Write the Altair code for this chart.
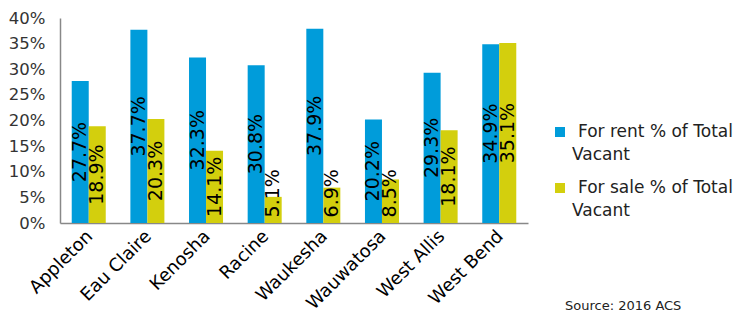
import altair as alt
import pandas as pd

cities = ["Appleton", "Eau Claire", "Kenosha", "Racine", "Waukesha", "Wauwatosa", "West Allis", "West Bend"]
rent = [27.7, 37.7, 32.3, 30.8, 37.9, 20.2, 29.3, 34.9]
sale = [18.9, 20.3, 14.1, 5.1, 6.9, 8.5, 18.1, 35.1]
series = ["For rent % of Total Vacant", "For sale % of Total Vacant"]
legend_line1 = ["For rent % of Total", "For sale % of Total"]
legend_line2 = ["Vacant", "Vacant"]
colors = ["#009CDA", "#D3CF0D"]
y_ticks = [0, 5, 10, 15, 20, 25, 30, 35, 40]
source_text = "Source: 2016 ACS"

rows = []
for i, c in enumerate(cities):
    rows.append({"city": c, "series": series[0], "value": rent[i]})
    rows.append({"city": c, "series": series[1], "value": sale[i]})
df = pd.DataFrame(rows)

FONT = "DejaVu Sans"

x = alt.X("city:N", sort=cities,
          scale=alt.Scale(paddingInner=0.42, paddingOuter=0.2),
          axis=alt.Axis(title=None, labelAngle=-45, labelAlign="right", labelBaseline="top",
                        labelFont=FONT, labelFontSize=18, labelColor="#000000", labelOffset=-5,
                        ticks=False, domainColor="#888888", domainWidth=1.5, labelPadding=4))
yscale = alt.Scale(domain=[0, 40], nice=False)
yaxis = alt.Axis(title=None, values=y_ticks, labelExpr="datum.value + '%'",
                 grid=False, ticks=False, domainColor="#888888", domainWidth=1.5,
                 labelFont=FONT, labelFontSize=16.5, labelColor="#333333", labelPadding=15)
y = alt.Y("value:Q", scale=yscale, axis=yaxis)
xo = alt.XOffset("series:N", sort=series)
color = alt.Color("series:N", scale=alt.Scale(domain=series, range=colors), legend=None)

base = alt.Chart(df)
bars = base.mark_bar().encode(x=x, y=y, xOffset=xo, color=color)
labels = base.transform_calculate(
    mid="max(datum.value / 2, 5.8)", lab="format(datum.value, '.1f') + '%'"
).mark_text(
    angle=270, align="center", baseline="middle", font=FONT, fontSize=19, color="#000000"
).encode(x=x, xOffset=xo, y=alt.Y("mid:Q", scale=yscale, axis=yaxis), text="lab:N")

leg_df = pd.DataFrame({"series": series, "line1": legend_line1, "line2": legend_line2})
leg_layers = []
for i, s in enumerate(series):
    d = leg_df[leg_df["series"] == s]
    y0 = 114 + 56 * i
    leg_layers.append(alt.Chart(d).mark_square(size=100, opacity=1, color=colors[i]).encode(
        x=alt.value(500), y=alt.value(y0)))
    leg_layers.append(alt.Chart(d).mark_text(align="left", baseline="middle", font=FONT, fontSize=17,
                                             color="#222222").encode(
        x=alt.value(518), y=alt.value(y0), text="line1:N"))
    leg_layers.append(alt.Chart(d).mark_text(align="left", baseline="middle", font=FONT, fontSize=17,
                                             color="#222222").encode(
        x=alt.value(512), y=alt.value(y0 + 23), text="line2:N"))

src = alt.Chart(pd.DataFrame({"t": [source_text]})).mark_text(
    align="left", baseline="middle", font=FONT, fontSize=13, color="#222222").encode(
    x=alt.value(505), y=alt.value(288), text="t:N")

chart = alt.layer(bars, labels, *leg_layers, src).properties(
    width=468, height=205,
    background="white",
    autosize=alt.AutoSizeParams(type="none"),
    padding={"left": 52, "top": 10, "right": 209, "bottom": 92},
).configure_view(stroke=None)

chart.save("out.html", embed_options={"renderer": "svg", "actions": False})
